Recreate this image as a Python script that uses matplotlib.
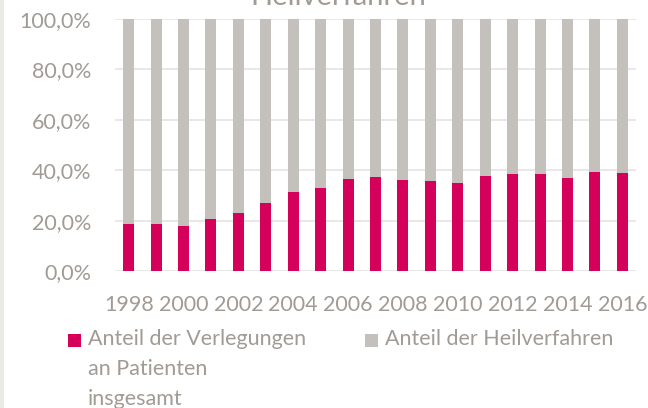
import matplotlib.pyplot as plt
from matplotlib.patches import Rectangle
from matplotlib.ticker import FuncFormatter

# Anteil der Verlegungen an Patienten insgesamt (in %)
years = list(range(1998, 2017))
verlegungen = [18.6, 18.6, 17.9, 20.7, 23.0, 26.8, 31.5, 32.8, 36.4, 37.2,
               36.0, 35.6, 34.9, 37.6, 38.4, 38.3, 36.8, 39.3, 38.8]
# the rest up to 100 %
heilverfahren = [100 - v for v in verlegungen]
y_ticks = [0, 20, 40, 60, 80, 100]

magenta = '#D5005A'
grey_bar = '#C4C0BC'
text_grey = '#A19B96'
grid_grey = '#E6E4E2'

plt.rcParams['font.family'] = ['Lato', 'DejaVu Sans']

fig = plt.figure(figsize=(6.48, 4.08), dpi=100)
ax = fig.add_axes([115 / 648, 1 - 271 / 408, 521 / 648, 252 / 408])

x = list(range(len(years)))
ax.bar(x, verlegungen, width=0.4, color=magenta, zorder=3)
ax.bar(x, heilverfahren, width=0.4, bottom=verlegungen, color=grey_bar, zorder=3)

ax.set_xlim(-0.5, len(years) - 0.5)
ax.set_ylim(0, 100)
ax.set_yticks(y_ticks)
ax.yaxis.set_major_formatter(FuncFormatter(lambda v, p: f'{v:.1f}%'.replace('.', ',')))
ax.set_xticks(x[::2])
ax.set_xticklabels([str(y) for y in years[::2]])
ax.grid(axis='y', color=grid_grey, linewidth=1.2, zorder=0)
ax.set_axisbelow(True)
for s in ax.spines.values():
    s.set_visible(False)
ax.tick_params(axis='both', length=0, labelsize=15.5, colors=text_grey)
ax.tick_params(axis='y', pad=17)
ax.tick_params(axis='x', pad=17)

# title, mostly cut off at the top edge
fig.text(338 / 648, 1 - 5 / 408, 'Heilverfahren', ha='center', va='baseline',
         fontsize=21, color=text_grey)

# left border strip
fig.add_artist(Rectangle((0, 0), 4 / 648, 1, transform=fig.transFigure,
                         color='#ECEAE5', lw=0))

# legend
fig.add_artist(Rectangle((68 / 648, 1 - 347 / 408), 13 / 648, 13 / 408,
                         transform=fig.transFigure, color=magenta, lw=0))
fig.text(88 / 648, 1 - 329 / 408, 'Anteil der Verlegungen\nan Patienten\ninsgesamt',
         ha='left', va='top', fontsize=15.5, color=text_grey, linespacing=1.62)
fig.add_artist(Rectangle((365 / 648, 1 - 347 / 408), 13 / 648, 13 / 408,
                         transform=fig.transFigure, color=grey_bar, lw=0))
fig.text(385 / 648, 1 - 329 / 408, 'Anteil der Heilverfahren',
         ha='left', va='top', fontsize=15.5, color=text_grey)

fig.savefig('out.png', dpi=100)
